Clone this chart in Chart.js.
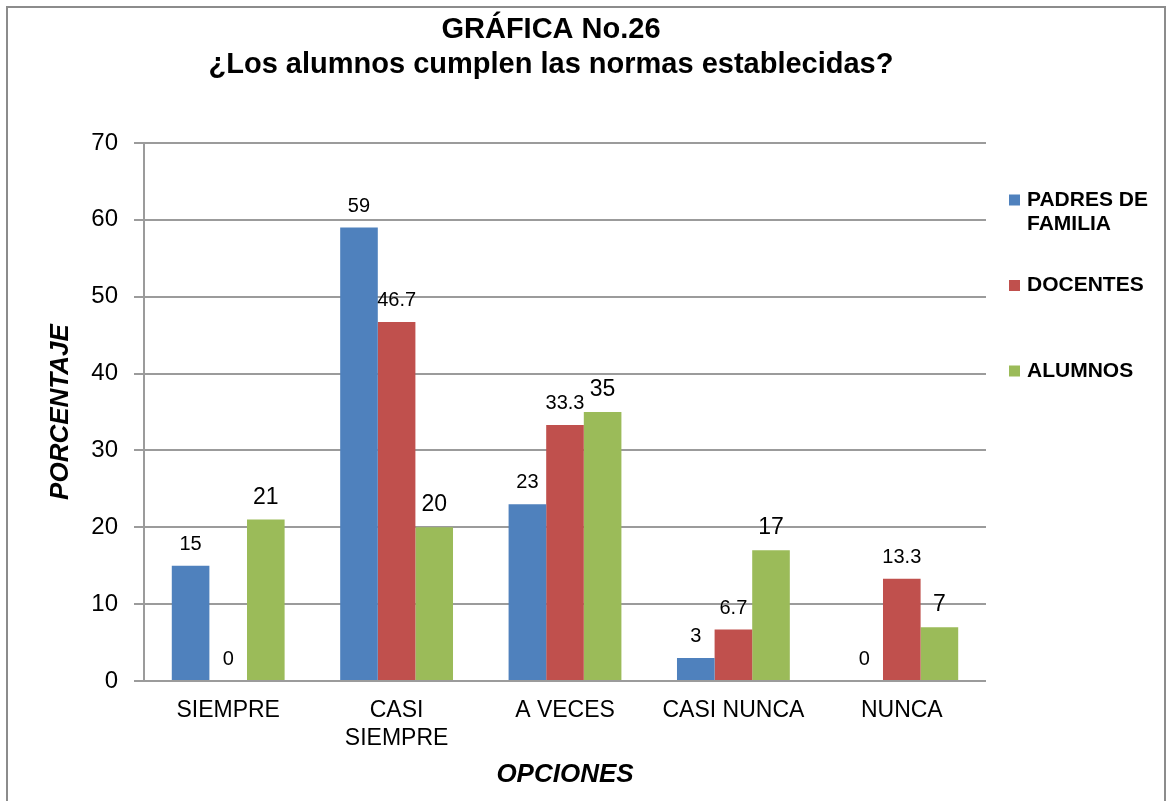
<!DOCTYPE html>
<html>
<head>
<meta charset="utf-8">
<script src="https://cdn.jsdelivr.net/npm/chart.js@4.4.0/dist/chart.umd.min.js"></script>
<style>
  html, body { margin: 0; padding: 0; background: #fff; }
  #wrap { width: 1167px; height: 801px; }
</style>
</head>
<body>
<div id="wrap"><canvas id="chart" width="1167" height="801"></canvas></div>
<script>
const titleLines = ["GRÁFICA No.26", "¿Los alumnos cumplen las normas establecidas?"];
const categories = ["SIEMPRE", ["CASI", "SIEMPRE"], "A VECES", "CASI NUNCA", "NUNCA"];
const seriesNames = ["PADRES DE FAMILIA", "DOCENTES", "ALUMNOS"];
const padres = [15, 59, 23, 3, 0];
const docentes = [0, 46.7, 33.3, 6.7, 13.3];
const alumnos = [21, 20, 35, 17, 7];
const yMin = 0, yMax = 70, yStep = 10;

const FONT = "'Liberation Sans', Arial, sans-serif";
const colors = ["#4F81BD", "#C0504D", "#9BBB59"];

// frame + title + legend drawn by hand
const decorPlugin = {
    id: "decor",
    beforeDraw(chart) {
        const ctx = chart.ctx;
        ctx.save();
        ctx.fillStyle = "#fff";
        ctx.fillRect(0, 0, chart.width, chart.height);
        ctx.strokeStyle = "#8c8c8c";
        ctx.lineWidth = 2;
        ctx.strokeRect(7, 7, 1158, 820);
        ctx.restore();
    },
    afterDraw(chart) {
        const ctx = chart.ctx;
        ctx.save();
        ctx.fillStyle = "#000";
        ctx.textAlign = "center";
        ctx.textBaseline = "alphabetic";
        ctx.font = "bold 29px " + FONT;
        ctx.fillText(titleLines[0], 551, 38);
        ctx.fillText(titleLines[1], 551, 73);

        // legend
        ctx.font = "bold 21px " + FONT;
        ctx.textAlign = "left";
        ctx.textBaseline = "middle";
        let y = 200;
        chart.data.datasets.forEach((ds, i) => {
            ctx.fillStyle = ds.backgroundColor;
            ctx.fillRect(1009, y - 5.5, 11, 11);
            ctx.fillStyle = "#000";
            const words = ds.label.split(" ");
            let lines = [], cur = "";
            words.forEach(w => {
                const t = cur ? cur + " " + w : w;
                if (ctx.measureText(t).width > 132 && cur) { lines.push(cur); cur = w; }
                else cur = t;
            });
            lines.push(cur);
            lines.forEach((l, k) => ctx.fillText(l, 1027, y + k * 24));
            y += 85.5;
        });
        ctx.restore();
    },
    afterDatasetsDraw(chart) {
        const ctx = chart.ctx;
        ctx.save();
        ctx.fillStyle = "#000";
        ctx.textAlign = "center";
        ctx.textBaseline = "alphabetic";
        chart.data.datasets.forEach((ds, i) => {
            const meta = chart.getDatasetMeta(i);
            ctx.font = ds.labelSize + "px " + FONT;
            meta.data.forEach((bar, j) => {
                ctx.fillText(String(ds.data[j]), bar.x, bar.y - 16);
            });
        });
        ctx.restore();
    }
};

const values = [padres, docentes, alumnos];
const labelSizes = [20, 20, 23];

new Chart(document.getElementById("chart"), {
    type: "bar",
    data: {
        labels: categories,
        datasets: seriesNames.map((name, i) => ({
            label: name,
            data: values[i],
            backgroundColor: colors[i],
            labelSize: labelSizes[i],
            categoryPercentage: 0.67,
            barPercentage: 1.0
        }))
    },
    options: {
        responsive: false,
        animation: false,
        layout: { padding: { top: 143, right: 181, left: 0, bottom: 0 } },
        plugins: {
            legend: { display: false },
            title: { display: false },
            tooltip: { enabled: false }
        },
        scales: {
            x: {
                afterFit: s => { s.height = 120; },
                grid: { display: false, drawTicks: false },
                border: { display: false },
                ticks: {
                    color: "#000",
                    padding: 15,
                    maxRotation: 0,
                    autoSkip: false,
                    font: { family: FONT, size: 23, lineHeight: 1.25 }
                },
                title: {
                    display: true,
                    text: "OPCIONES",
                    color: "#000",
                    font: { family: FONT, size: 26, weight: "bold", style: "italic" },
                    padding: { bottom: 11, top: 0 }
                }
            },
            y: {
                min: yMin,
                max: yMax,
                afterFit: s => { s.width = 144; },
                grid: { color: "#9b9b9b", lineWidth: 2, tickLength: 10 },
                border: { color: "#9b9b9b", width: 2 },
                ticks: {
                    stepSize: yStep,
                    color: "#000",
                    padding: 16,
                    font: { family: FONT, size: 24 }
                },
                title: {
                    display: true,
                    text: "PORCENTAJE",
                    color: "#000",
                    font: { family: FONT, size: 26, weight: "bold", style: "italic" },
                    padding: { top: 45, bottom: 0 }
                }
            }
        }
    },
    plugins: [decorPlugin]
});
</script>
</body>
</html>
